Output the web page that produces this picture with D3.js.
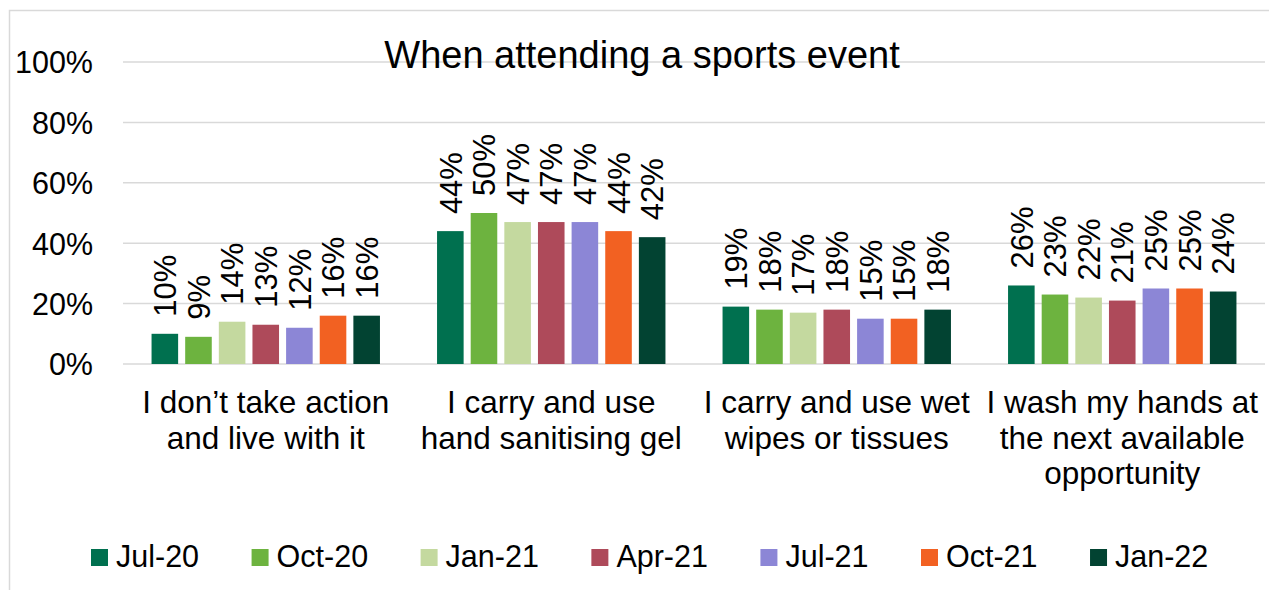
<!DOCTYPE html>
<html>
<head>
<meta charset="utf-8">
<title>When attending a sports event</title>
<script src="https://cdn.jsdelivr.net/npm/d3@7"></script>
<style>
    html, body { margin: 0; padding: 0; background: #fff; }
    body { width: 1269px; height: 590px; overflow: hidden; }
    svg { display: block; font-family: Arial, 'Liberation Sans', sans-serif; }
</style>
</head>
<body>
<div id="chart"></div>
<script>
/* Grouped bar chart: hygiene behaviour when attending a sports event. */

var categories = [
    ['I don\u2019t take action', 'and live with it'],
    ['I carry and use', 'hand sanitising gel'],
    ['I carry and use wet', 'wipes or tissues'],
    ['I wash my hands at', 'the next available', 'opportunity']
];
var periods = ['Jul-20', 'Oct-20', 'Jan-21', 'Apr-21', 'Jul-21', 'Oct-21', 'Jan-22'];
var colours = ['#00704f', '#6db33f', '#c4d99f', '#ae4a5a', '#8c86d6', '#f26122', '#024332'];
var yTicks = [0, 20, 40, 60, 80, 100];

// one array per survey wave, values in category order
var jul20 = [10, 44, 19, 26];
var oct20 = [9, 50, 18, 23];
var jan21 = [14, 47, 17, 22];
var apr21 = [13, 47, 18, 21];
var jul21 = [12, 47, 15, 25];
var oct21 = [16, 44, 15, 25];
var jan22 = [16, 42, 18, 24];
var seriesValues = [jul20, oct20, jan21, apr21, jul21, oct21, jan22];

(function () {
    'use strict';

    var width = 1269;
    var height = 590;
    var plot = { left: 123, right: 1265, top: 62, bottom: 364 };

    var svg = d3.select('#chart').append('svg')
        .attr('width', width)
        .attr('height', height);

    // chart area border (runs off the right and bottom of the picture)
    svg.append('rect')
        .attr('x', 9.5).attr('y', 10.5)
        .attr('width', 1400).attr('height', 800)
        .attr('fill', 'none')
        .attr('stroke', '#d9d9d9')
        .attr('stroke-width', 1.5);

    var y = d3.scaleLinear().domain([0, 100]).range([plot.bottom, plot.top]);

    var x0 = d3.scaleBand()
        .domain(d3.range(categories.length))
        .range([plot.left, plot.right])
        .paddingInner(0.2)
        .paddingOuter(0.1);

    var x1 = d3.scaleBand()
        .domain(d3.range(periods.length))
        .range([0, x0.bandwidth()])
        .paddingInner(0.21);

    // gridlines
    svg.append('g').selectAll('line').data(yTicks).join('line')
        .attr('x1', plot.left).attr('x2', plot.right)
        .attr('y1', function (d) { return y(d); })
        .attr('y2', function (d) { return y(d); })
        .attr('stroke', '#d9d9d9')
        .attr('stroke-width', 1.5);

    // y axis labels
    var yAxis = svg.append('g')
        .attr('transform', 'translate(93,0)')
        .call(d3.axisLeft(y).tickValues(yTicks).tickSize(0).tickPadding(0)
            .tickFormat(function (d) { return d + '%'; }));
    yAxis.select('.domain').remove();
    yAxis.selectAll('text')
        .attr('font-size', 30.5)
        .attr('font-family', 'Arial, Liberation Sans, sans-serif')
        .attr('fill', '#000')
        .attr('dy', '0.36em');

    // title (sits on top of the 100% gridline)
    svg.append('text')
        .attr('x', 642)
        .attr('y', 68)
        .attr('text-anchor', 'middle')
        .attr('font-size', 38)
        .attr('fill', '#000')
        .text('When attending a sports event');

    // bars and rotated value labels
    var groups = svg.append('g').selectAll('g')
        .data(periods)
        .join('g')
        .attr('fill', function (d, i) { return colours[i]; });

    groups.each(function (period, si) {
        var g = d3.select(this);
        var vals = seriesValues[si];

        g.selectAll('rect').data(vals).join('rect')
            .attr('x', function (v, ci) { return x0(ci) + x1(si); })
            .attr('y', function (v) { return y(v); })
            .attr('width', x1.bandwidth())
            .attr('height', function (v) { return y(0) - y(v); });

        g.selectAll('text').data(vals).join('text')
            .attr('transform', function (v, ci) {
                var cx = x0(ci) + x1(si) + x1.bandwidth() / 2;
                return 'translate(' + cx + ',' + (y(v) - 17) + ') rotate(-90)';
            })
            .attr('dy', '0.36em')
            .attr('font-size', 31)
            .attr('fill', '#000')
            .text(function (v) { return v + '%'; });
    });

    // category labels
    var catLabels = svg.append('g').selectAll('text')
        .data(categories)
        .join('text')
        .attr('text-anchor', 'middle')
        .attr('font-size', 31.5)
        .attr('fill', '#000');

    catLabels.each(function (lines, ci) {
        var cx = x0(ci) + x0.bandwidth() / 2;
        d3.select(this).selectAll('tspan').data(lines).join('tspan')
            .attr('x', cx)
            .attr('y', function (l, li) { return 413 + li * 35.5; })
            .text(function (l) { return l; });
    });

    // legend
    var legend = svg.append('g');
    var lx = 91;
    periods.forEach(function (p, i) {
        legend.append('rect')
            .attr('x', lx).attr('y', 549)
            .attr('width', 17).attr('height', 17)
            .attr('fill', colours[i]);
        var t = legend.append('text')
            .attr('x', lx + 25)
            .attr('y', 567)
            .attr('font-size', 30.5)
            .attr('fill', '#000')
            .text(p);
        lx += t.node().getComputedTextLength() + 77.5;
    });
})();
</script>
</body>
</html>
